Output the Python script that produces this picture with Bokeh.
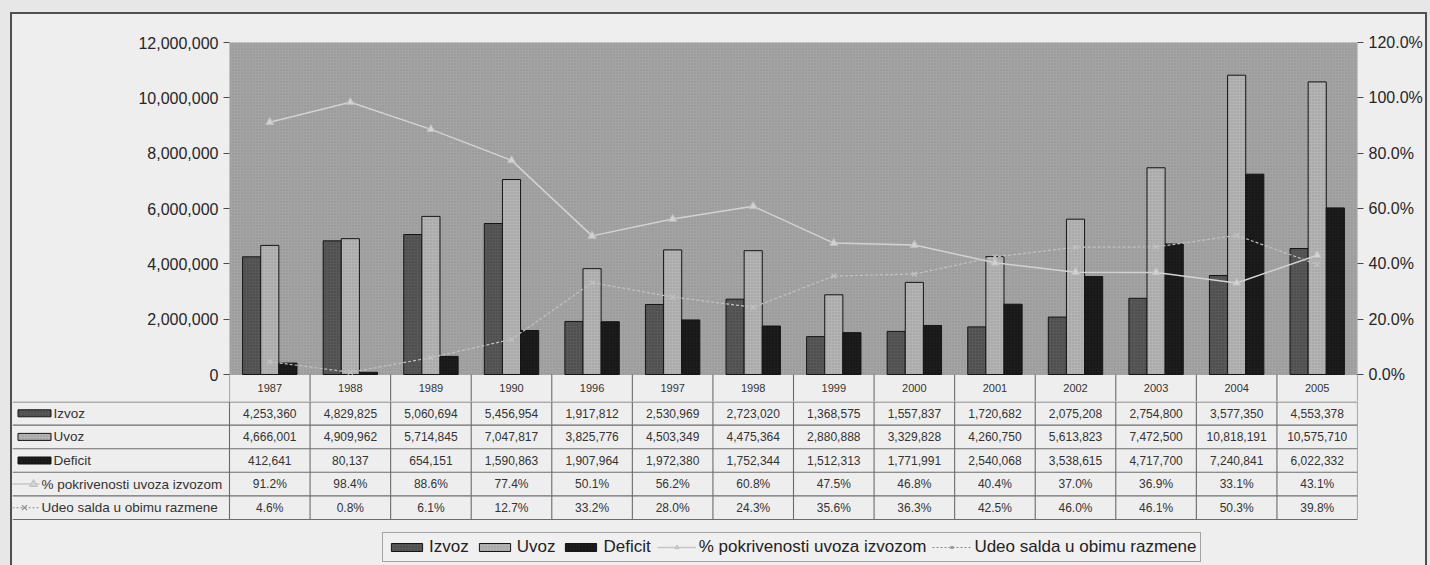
from bokeh.plotting import figure
from bokeh.models import (Range1d, LinearAxis, NumeralTickFormatter, FixedTicker,
                          BoxAnnotation, ColumnDataSource, Legend, LegendItem, FactorRange)
from bokeh.transform import dodge
from bokeh.layouts import column
from bokeh.embed import file_html
from bokeh.resources import INLINE
from bokeh.core.properties import value

# ---- data -------------------------------------------------------------
years = ["1987", "1988", "1989", "1990", "1996", "1997", "1998",
         "1999", "2000", "2001", "2002", "2003", "2004", "2005"]
izvoz = [4253360, 4829825, 5060694, 5456954, 1917812, 2530969, 2723020,
         1368575, 1557837, 1720682, 2075208, 2754800, 3577350, 4553378]
uvoz = [4666001, 4909962, 5714845, 7047817, 3825776, 4503349, 4475364,
        2880888, 3329828, 4260750, 5613823, 7472500, 10818191, 10575710]
deficit = [412641, 80137, 654151, 1590863, 1907964, 1972380, 1752344,
           1512313, 1771991, 2540068, 3538615, 4717700, 7240841, 6022332]
pokrivenost = [91.2, 98.4, 88.6, 77.4, 50.1, 56.2, 60.8,
               47.5, 46.8, 40.4, 37.0, 36.9, 33.1, 43.1]
udeo_salda = [4.6, 0.8, 6.1, 12.7, 33.2, 28.0, 24.3,
              35.6, 36.3, 42.5, 46.0, 46.1, 50.3, 39.8]

value_ticks = [0, 2000000, 4000000, 6000000, 8000000, 10000000, 12000000]
pct_ticks = [0.0, 0.2, 0.4, 0.6, 0.8, 1.0, 1.2]
VMAX = 12000000
PMAX = 1.2

row_labels = ["Izvoz", "Uvoz", "Deficit",
              "% pokrivenosti uvoza izvozom", "Udeo salda u obimu razmene"]

FONT = "Liberation Sans"
PAGE = "#eeeeee"
GRIDC = "#6c6c6c"
C_IZVOZ = "#585858"
C_UVOZ = "#b4b4b4"
C_DEFICIT = "#1d1d1d"
C_POK = "#d2d2d2"
C_UDEO = "#c2c2c2"

# ---- layout sizes (px) ------------------------------------------------
W = 1413
TOP_PAD = 28
CHART_PX = 332          # height of the value area
HEADER_H = 27           # year row of the data table
ROW_H = 23.6
PLOT_W = 1128
LEFT_PAD = 217
RIGHT_PAD = W - LEFT_PAD - PLOT_W
n = len(years)
COL_PX = PLOT_W / n
FRAME_A = CHART_PX + HEADER_H
TABLE_H = 166

src = ColumnDataSource(dict(
    year=years, izvoz=izvoz, uvoz=uvoz, deficit=deficit,
    pok=[v / 100 for v in pokrivenost], udeo=[v / 100 for v in udeo_salda],
))

# ---- chart with the year row underneath ----------------------------------
p = figure(width=W, height=TOP_PAD + FRAME_A,
           x_range=FactorRange(factors=years),
           y_range=Range1d(-VMAX * HEADER_H / CHART_PX, VMAX),
           output_backend="svg", toolbar_location=None, x_axis_location=None,
           min_border_left=LEFT_PAD, min_border_right=RIGHT_PAD,
           min_border_top=TOP_PAD, min_border_bottom=0,
           background_fill_color=PAGE, border_fill_color=PAGE,
           outline_line_color=None)
p.frame_align = False
p.grid.visible = False

# gray stippled value area, above the zero line
p.add_layout(BoxAnnotation(bottom=0, fill_color="#a4a4a4", fill_alpha=1,
                           line_color="#4a4a4a", line_width=1,
                           hatch_pattern="dot", hatch_scale=3,
                           hatch_color="#6e6e6e", hatch_alpha=0.4,
                           level="underlay"))

ya = p.yaxis[0]
ya.ticker = FixedTicker(ticks=value_ticks)
ya.formatter = NumeralTickFormatter(format="0,0")

p.extra_y_ranges = {"pct": Range1d(-PMAX * HEADER_H / CHART_PX, PMAX),
                    "hdr": Range1d(FRAME_A, 0)}
ra = LinearAxis(y_range_name="pct", ticker=FixedTicker(ticks=pct_ticks),
                formatter=NumeralTickFormatter(format="0.0%"))
p.add_layout(ra, "right")

for ax in (ya, ra):
    ax.major_label_text_font = FONT
    ax.major_label_text_font_size = "16px"
    ax.major_label_text_color = "#262626"
    ax.axis_line_color = None
    ax.major_tick_line_color = "#4a4a4a"
    ax.major_tick_out = 6
    ax.major_tick_in = 0
    ax.minor_tick_line_color = None

BW = 0.225
bar_styles = [
    ("izvoz", -BW, C_IZVOZ, "#2a2a2a", 0.55),
    ("uvoz", 0.0, C_UVOZ, "#707070", 0.45),
    ("deficit", BW, C_DEFICIT, "#000000", 0.5),
]
for field, off, fill, hatch, ha in bar_styles:
    p.vbar(x=dodge("year", off, range=p.x_range), top=field, width=BW, source=src,
           fill_color=fill, line_color="#151515", line_width=1,
           hatch_pattern="dot", hatch_scale=3, hatch_color=hatch, hatch_alpha=ha)

p.line(x="year", y="pok", y_range_name="pct", source=src,
       line_color=C_POK, line_width=1.5)
p.scatter(x="year", y="pok", y_range_name="pct", source=src, marker="triangle",
          size=8, fill_color=C_POK, line_color="#c0c0c0")
p.line(x="year", y="udeo", y_range_name="pct", source=src,
       line_color=C_UDEO, line_width=1.2, line_dash="3 2")
p.scatter(x="year", y="udeo", y_range_name="pct", source=src, marker="x",
          size=7, line_color=C_UDEO, line_width=1.2)

# year row: column separators and years
p.segment(x0=list(range(n + 1)), x1=list(range(n + 1)),
          y0=[CHART_PX] * (n + 1), y1=[FRAME_A] * (n + 1),
          y_range_name="hdr", line_color=GRIDC, line_width=1.1)
p.text(x=years, y=[CHART_PX + HEADER_H / 2] * n, text=years, y_range_name="hdr",
       text_align="center", text_baseline="middle", text_color="#333333",
       text_font=value(FONT), text_font_size="11px")

# ---- data rows and legend ----------------------------------------------
t = figure(width=W, height=TABLE_H,
           x_range=Range1d(-LEFT_PAD / COL_PX, n), y_range=Range1d(TABLE_H, 0),
           output_backend="svg", toolbar_location=None,
           x_axis_location=None, y_axis_location=None,
           min_border_left=0, min_border_right=RIGHT_PAD,
           min_border_top=0, min_border_bottom=0,
           background_fill_color=PAGE, border_fill_color=PAGE,
           outline_line_color=None)
t.frame_align = False
t.grid.visible = False
t.extra_x_ranges = {"px": Range1d(0, LEFT_PAD + PLOT_W)}

nrows = len(row_labels)
row_top = [0.5] + [(k + 1) * ROW_H for k in range(nrows)]
row_mid = [(k + 0.5) * ROW_H for k in range(nrows)]
table_bottom = row_top[-1]

t.segment(x0=[-LEFT_PAD / COL_PX] * len(row_top), x1=[n] * len(row_top),
          y0=row_top, y1=row_top, line_color=GRIDC, line_width=1.1)
t.segment(x0=list(range(n + 1)), x1=list(range(n + 1)),
          y0=[0] * (n + 1), y1=[table_bottom] * (n + 1),
          line_color=GRIDC, line_width=1.1)

xs = [i + 0.5 for i in range(n)]
rows = [
    [f"{v:,}" for v in izvoz],
    [f"{v:,}" for v in uvoz],
    [f"{v:,}" for v in deficit],
    [f"{v:.1f}%" for v in pokrivenost],
    [f"{v:.1f}%" for v in udeo_salda],
]
for k, vals in enumerate(rows):
    t.text(x=xs, y=[row_mid[k]] * n, text=vals, text_align="center",
           text_baseline="middle", text_color="#333333",
           text_font=value(FONT), text_font_size="12px")

# row keys
key_bars = []
for k, (fill, hatch) in enumerate([(C_IZVOZ, "#2a2a2a"), (C_UVOZ, "#707070"),
                                   (C_DEFICIT, "#000000")]):
    r = t.rect(x=[22], y=[row_mid[k]], width=33, height=7, x_range_name="px",
               fill_color=fill, line_color="#151515", line_width=1,
               hatch_pattern="dot", hatch_scale=3, hatch_color=hatch, hatch_alpha=0.5)
    key_bars.append(r)

pok_line = t.line(x=[0, 27], y=[row_mid[3]] * 2, x_range_name="px",
                  line_color="#c6c6c6", line_width=1.5)
pok_mark = t.scatter(x=[21], y=[row_mid[3]], x_range_name="px", marker="triangle",
                     size=8, fill_color="#d2d2d2", line_color="#bcbcbc")
udeo_line = t.line(x=[0, 27], y=[row_mid[4]] * 2, x_range_name="px",
                   line_color="#8a8a8a", line_width=1.1, line_dash="2 2")
udeo_mark = t.scatter(x=[12], y=[row_mid[4]], x_range_name="px", marker="x",
                      size=7, line_color="#8a8a8a", line_width=1.1)

label_x = [41, 41, 41, 29, 29]
t.text(x=label_x, y=row_mid, text=row_labels, x_range_name="px",
       text_align="left", text_baseline="middle", text_color="#333333",
       text_font=value(FONT), text_font_size="13.5px")

legend = Legend(items=[
    LegendItem(label="Izvoz", renderers=[key_bars[0]]),
    LegendItem(label="Uvoz", renderers=[key_bars[1]]),
    LegendItem(label="Deficit", renderers=[key_bars[2]]),
    LegendItem(label="% pokrivenosti uvoza izvozom", renderers=[pok_line, pok_mark]),
    LegendItem(label="Udeo salda u obimu razmene", renderers=[udeo_line, udeo_mark]),
], orientation="horizontal", location=(370, 5))
legend.glyph_width = 39
legend.glyph_height = 10
legend.label_standoff = 3
legend.spacing = 6
legend.padding = 4
legend.margin = 0
legend.label_text_font = FONT
legend.label_text_font_size = "17px"
legend.label_text_color = "#222222"
legend.label_height = 18
legend.border_line_color = "#555555"
legend.border_line_width = 1
legend.background_fill_color = "#f0f0f0"
legend.background_fill_alpha = 1
t.add_layout(legend, "center")

boxed = column(p, t, spacing=0, margin=(12, 0, 0, 10),
               styles={"border": "2px solid #4f4f4f", "background-color": PAGE})
page = column(boxed, width=1430, height=565, margin=0,
              styles={"background-color": "#e7e7e7"})

open("out.html", "w").write(file_html(page, INLINE))
